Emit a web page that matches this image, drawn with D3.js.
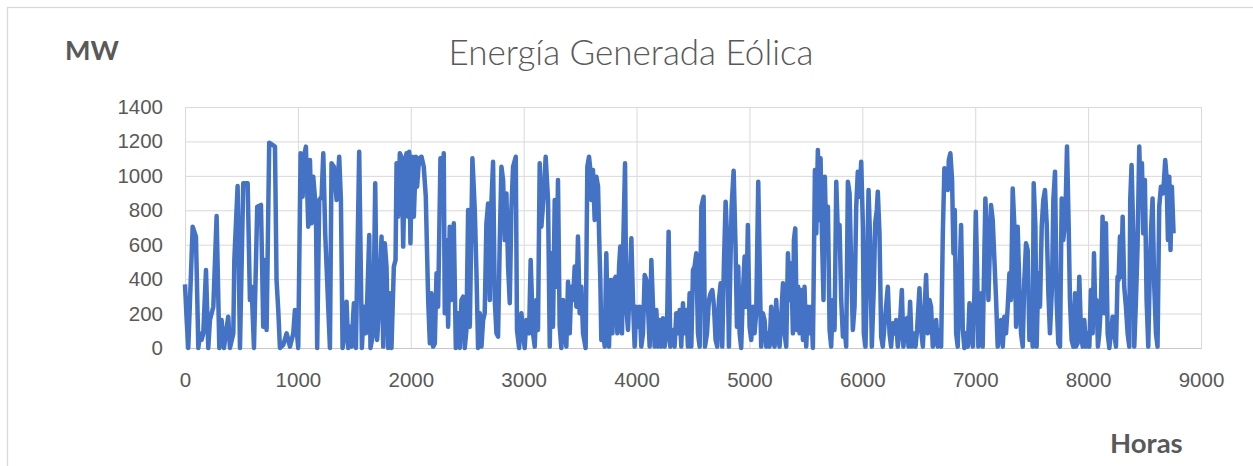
<!DOCTYPE html>
<html>
<head>
<meta charset="utf-8">
<script src="https://cdnjs.cloudflare.com/ajax/libs/d3/7.8.4/d3.min.js"></script>
<style>
  body { margin: 0; background: #fff; }
  svg { display: block; font-family: Lato, "Open Sans", sans-serif; }
  .grid line { stroke: #d9d9d9; stroke-width: 1; }
  .grid text { fill: #595959; font-size: 20.5px; }
</style>
</head>
<body>
<div id="chart"></div>
<script>
// hourly wind output (MW) at its peaks and troughs
const horas = [
  0, 15, 29, 68, 97, 118, 133, 147, 162, 186, 206, 221, 251, 280, 304, 324, 345, 383, 398, 428,
  437, 466, 487, 516, 555, 575, 590, 611, 640, 673, 693, 708, 723, 746, 797, 811, 826, 841,
  871, 900, 930, 959, 974, 1003, 1024, 1042, 1053, 1071, 1092, 1107, 1121, 1136, 1160, 1171,
  1189, 1210, 1225, 1242, 1254, 1284, 1298, 1319, 1343, 1366, 1381, 1396, 1416, 1431, 1446,
  1461, 1475, 1496, 1514, 1543, 1567, 1584, 1602, 1614, 1632, 1643, 1667, 1685, 1702, 1714,
  1741, 1756, 1770, 1785, 1800, 1815, 1829, 1850, 1865, 1874, 1888, 1903, 1918, 1933, 1947,
  1962, 1977, 1986, 1997, 2012, 2027, 2045, 2056, 2074, 2095, 2115, 2133, 2154, 2169, 2183,
  2198, 2213, 2228, 2242, 2263, 2278, 2292, 2301, 2316, 2331, 2345, 2360, 2381, 2399, 2419,
  2434, 2449, 2464, 2478, 2493, 2508, 2523, 2546, 2567, 2582, 2596, 2611, 2626, 2641, 2655,
  2670, 2685, 2700, 2714, 2729, 2744, 2759, 2773, 2788, 2803, 2818, 2832, 2847, 2862, 2877,
  2891, 2906, 2930, 2941, 2959, 2980, 2995, 3009, 3024, 3048, 3062, 3083, 3098, 3113, 3127,
  3142, 3157, 3177, 3195, 3216, 3231, 3245, 3260, 3275, 3290, 3304, 3319, 3334, 3349, 3363,
  3378, 3393, 3408, 3422, 3437, 3452, 3467, 3481, 3496, 3511, 3526, 3549, 3564, 3579,
  3591, 3600, 3614, 3629, 3644, 3659, 3668, 3679, 3688, 3703, 3718, 3732, 3747, 3756, 3771,
  3786, 3800, 3815, 3830, 3845, 3856, 3871, 3883, 3898, 3909, 3924, 3939, 3954, 3968, 3983,
  3998, 4013, 4028, 4042, 4057, 4072, 4087, 4101, 4116, 4131, 4146, 4160, 4175, 4190, 4205,
  4219, 4234, 4249, 4269, 4284, 4299, 4323, 4337, 4352, 4367, 4382,
  4396, 4411, 4426, 4441, 4455, 4470, 4485, 4500, 4514, 4529, 4544, 4559, 4574, 4594, 4606,
  4624, 4641, 4656, 4671, 4686, 4700, 4715, 4730, 4745, 4759, 4774, 4789, 4804, 4818, 4830,
  4842, 4860, 4877, 4889, 4901, 4913, 4927, 4942, 4957, 4972, 4986, 5001, 5016, 5031, 5045,
  5060, 5078, 5096, 5104, 5119, 5134, 5149, 5164, 5178, 5193, 5208, 5223, 5237, 5252, 5267,
  5297, 5311, 5326, 5341, 5356, 5370, 5385, 5394, 5406, 5420, 5432, 5444, 5459, 5474, 5488,
  5503, 5518, 5533, 5547, 5562, 5571, 5580, 5592, 5606, 5621, 5630, 5642, 5656, 5668, 5680,
  5695, 5710, 5724, 5739, 5754, 5769, 5783, 5798, 5813, 5828, 5842, 5857, 5872, 5887, 5901,
  5916, 5931, 5946, 5960, 5975, 5990, 6005, 6013, 6028, 6040, 6055, 6069, 6084, 6102, 6114,
  6128, 6137, 6152, 6167, 6181,
  6205, 6226, 6241, 6255, 6270, 6285, 6300, 6314, 6329, 6350, 6364, 6379, 6394, 6409, 6423,
  6438, 6453, 6471, 6485, 6506, 6521, 6536, 6550, 6565, 6580, 6595, 6609, 6624, 6639, 6654,
  6668, 6683, 6698, 6713, 6727, 6742, 6757, 6766, 6780, 6795, 6807, 6819, 6831, 6845, 6860,
  6875, 6890, 6904, 6919, 6934, 6949, 6963, 6978, 6993, 7005, 7016, 7028, 7043, 7055, 7066,
  7090, 7102, 7117, 7140, 7155, 7170, 7185, 7199, 7214, 7229, 7244, 7258, 7273, 7288, 7303,
  7317, 7332, 7347, 7362, 7376, 7391, 7406, 7421, 7435, 7450, 7465, 7480, 7494, 7509, 7518,
  7533, 7544, 7559, 7574, 7589, 7603, 7618, 7633, 7648, 7662, 7680, 7692, 7707, 7721, 7736,
  7751, 7766, 7780, 7798, 7813, 7828, 7839, 7854, 7869, 7884, 7893, 7907, 7922,
  7937, 7952, 7966, 7981, 7996, 8011, 8025, 8040, 8052, 8064, 8075, 8087, 8099, 8114, 8128,
  8143, 8158, 8173, 8188, 8202, 8217, 8232, 8247, 8261, 8270, 8282, 8294, 8306, 8320, 8335,
  8350, 8365, 8373, 8385, 8400, 8409, 8424, 8438, 8453, 8465, 8477, 8488, 8503, 8518, 8533,
  8547, 8559, 8571, 8586, 8601, 8615, 8630, 8645, 8665, 8683, 8695, 8707, 8719, 8730, 8742, 8757
];
const mw = [
  370, 160, 0, 705, 647, 0, 85, 47, 85, 453, 0, 163, 240, 767, 0, 163, 0, 182, 0, 85,
  511, 941, 0, 957, 957, 279, 356, 0, 821, 831, 124, 511, 105, 1193, 1170, 395, 221, 0,
  18, 85, 8, 85, 221, 0, 1131, 879, 1111, 1170, 705, 1092, 724, 995, 802, 0,
  860, 879, 1131, 666, 473, 0, 1073, 1053, 860, 1111, 860, 0, 85, 269, 0,
  124, 8, 260, 0, 1140, 0, 240, 85, 279, 656, 0, 85, 957, 47, 182,
  647, 8, 608, 473, 0, 318, 0, 473, 511, 1073, 763, 1131, 1111, 589, 1053,
  1131, 763, 1140, 608, 1111, 763, 1111, 937, 1102, 1111, 1053, 879, 279, 27, 318,
  8, 27, 434, 240, 1102, 900, 1131, 202, 627, 124, 705, 279, 724, 0, 202,
  0, 279, 298, 0, 105, 802, 124, 1102, 802, 434, 0, 202, 8, 163, 202,
  724, 840, 279, 840, 1082, 279, 85, 66, 608, 1053, 976, 627, 898, 473, 260,
  802, 1053, 1111, 105, 0, 202, 85, 0, 163, 85, 511, 85, 8, 279, 105,
  1073, 705, 879, 1111, 860, 8, 550, 124, 860, 356, 976, 124, 0, 279, 124,
  8, 385, 85, 356, 279, 473, 240, 647, 202, 356, 85, 0, 1053, 1111,
  1034, 860, 1034, 744, 995, 937, 666, 395, 47, 105, 8, 550, 85, 8, 395,
  85, 395, 414, 85, 473, 589, 85, 627, 1073, 240, 105, 356, 637, 279, 8,
  240, 124, 240, 8, 85, 424, 395, 240, 8, 511, 240, 8, 221, 8, 163,
  8, 173, 8, 85, 676, 8, 105, 8, 202, 85, 221,
  8, 260, 85, 221, 8, 318, 8, 453, 473, 550, 85, 8, 821, 879, 8,
  85, 279, 318, 337, 240, 47, 8, 279, 376, 8, 492, 850, 608, 8, 434,
  821, 1030, 589, 124, 473, 85, 0, 318, 531, 240, 715, 124, 47, 240, 85,
  202, 966, 279, 8, 202, 163, 8, 85, 8, 240, 47, 8, 279, 85, 8,
  376, 85, 8, 550, 279, 492, 85, 627, 695, 105, 356, 85, 337, 47, 356,
  8, 240, 85, 240, 0, 511, 1034, 666, 1150, 744, 1102, 666, 279, 995, 627,
  821, 105, 8, 279, 105, 966, 666, 715, 279, 66, 124, 8, 966, 898, 473,
  105, 240, 821, 1024, 879, 1082, 705, 85, 8, 395, 918, 627, 8, 356, 724,
  802, 908, 666, 66, 8,
  202, 356, 85, 8, 144, 85, 163, 8, 85, 337, 8, 163, 173, 8, 269,
  8, 85, 8, 105, 347, 105, 8, 202, 424, 85, 279, 240, 8, 47, 163,
  8, 105, 8, 666, 1044, 937, 918, 1092, 1131, 976, 550, 802, 85, 8, 395,
  715, 105, 0, 85, 8, 260, 105, 8, 318, 792, 473, 8, 124, 318, 8,
  869, 666, 279, 831, 744, 511, 279, 8, 85, 163, 8, 182, 85, 240, 434,
  279, 927, 705, 124, 705, 356, 85, 8, 395, 608, 569, 47, 260, 8, 957,
  705, 8, 434, 240, 705, 860, 918, 724, 318, 85, 356, 860, 1024, 279, 27,
  8, 869, 627, 744, 1170, 705, 279, 47, 8, 318, 8, 27, 414,
  85, 8, 163, 8, 85, 8, 337, 85, 550, 202, 279, 8, 85, 260, 763,
  202, 724, 85, 0, 85, 182, 85, 8, 414, 395, 647, 414, 763, 356, 240,
  85, 8, 860, 1063, 666, 8, 279, 589, 1170, 860, 1073, 666, 976, 279, 8,
  473, 705, 869, 356, 85, 8, 821, 937, 898, 1092, 995, 627, 995, 569, 937, 666
];
const ticksX = [0, 1000, 2000, 3000, 4000, 5000, 6000, 7000, 8000, 9000];
const ticksY = [0, 200, 400, 600, 800, 1000, 1200, 1400];

const W = 1253, H = 466;
const margin = {top: 107, right: 52, bottom: 118, left: 185},
    width = W - margin.left - margin.right,
    height = H - margin.top - margin.bottom;

const svg = d3.select("#chart").append("svg")
    .attr("width", W)
    .attr("height", H);

// outer chart frame (runs off the right / bottom of the picture)
svg.append("rect")
    .attr("x", 7.5).attr("y", 7.5)
    .attr("width", W).attr("height", H)
    .attr("fill", "none")
    .attr("stroke", "#d9d9d9")
    .attr("stroke-width", 1.3);

const g = svg.append("g")
    .attr("transform", `translate(${margin.left},${margin.top})`);

const x = d3.scaleLinear().domain([0, 9000]).range([0, width]);
const y = d3.scaleLinear().domain([0, 1400]).range([height, 0]);

// horizontal gridlines + Y labels
g.append("g")
    .attr("class", "grid")
    .call(d3.axisLeft(y).tickValues(ticksY).tickFormat(d3.format("d"))
      .tickSize(-width).tickPadding(22))
    .call(a => a.select(".domain").remove());

// vertical gridlines + X labels
g.append("g")
    .attr("class", "grid")
    .attr("transform", `translate(0,${height})`)
    .call(d3.axisBottom(x).tickValues(ticksX).tickFormat(d3.format("d"))
      .tickSize(-height).tickPadding(24))
    .call(a => a.select(".domain").attr("stroke", "#c8c8c8"));

const line = d3.line()
    .x((d, i) => x(horas[i]))
    .y(d => y(d));

g.append("path")
    .datum(mw)
    .attr("fill", "none")
    .attr("stroke", "#4472c4")
    .attr("stroke-width", 4.5)
    .attr("stroke-linejoin", "round")
    .attr("d", line);

svg.append("text")
    .attr("x", 631).attr("y", 65)
    .attr("text-anchor", "middle")
    .attr("fill", "#595959")
    .style("font-size", "35px")
    .style("font-weight", 300)
    .text("Energía Generada Eólica");

svg.append("text")
    .attr("x", 65).attr("y", 60)
    .attr("fill", "#595959")
    .style("font-size", "27px")
    .style("font-weight", "bold")
    .text("MW");

svg.append("text")
    .attr("x", 1110).attr("y", 453)
    .attr("fill", "#595959")
    .style("font-size", "27.5px")
    .style("font-weight", "bold")
    .text("Horas");
</script>
</body>
</html>
